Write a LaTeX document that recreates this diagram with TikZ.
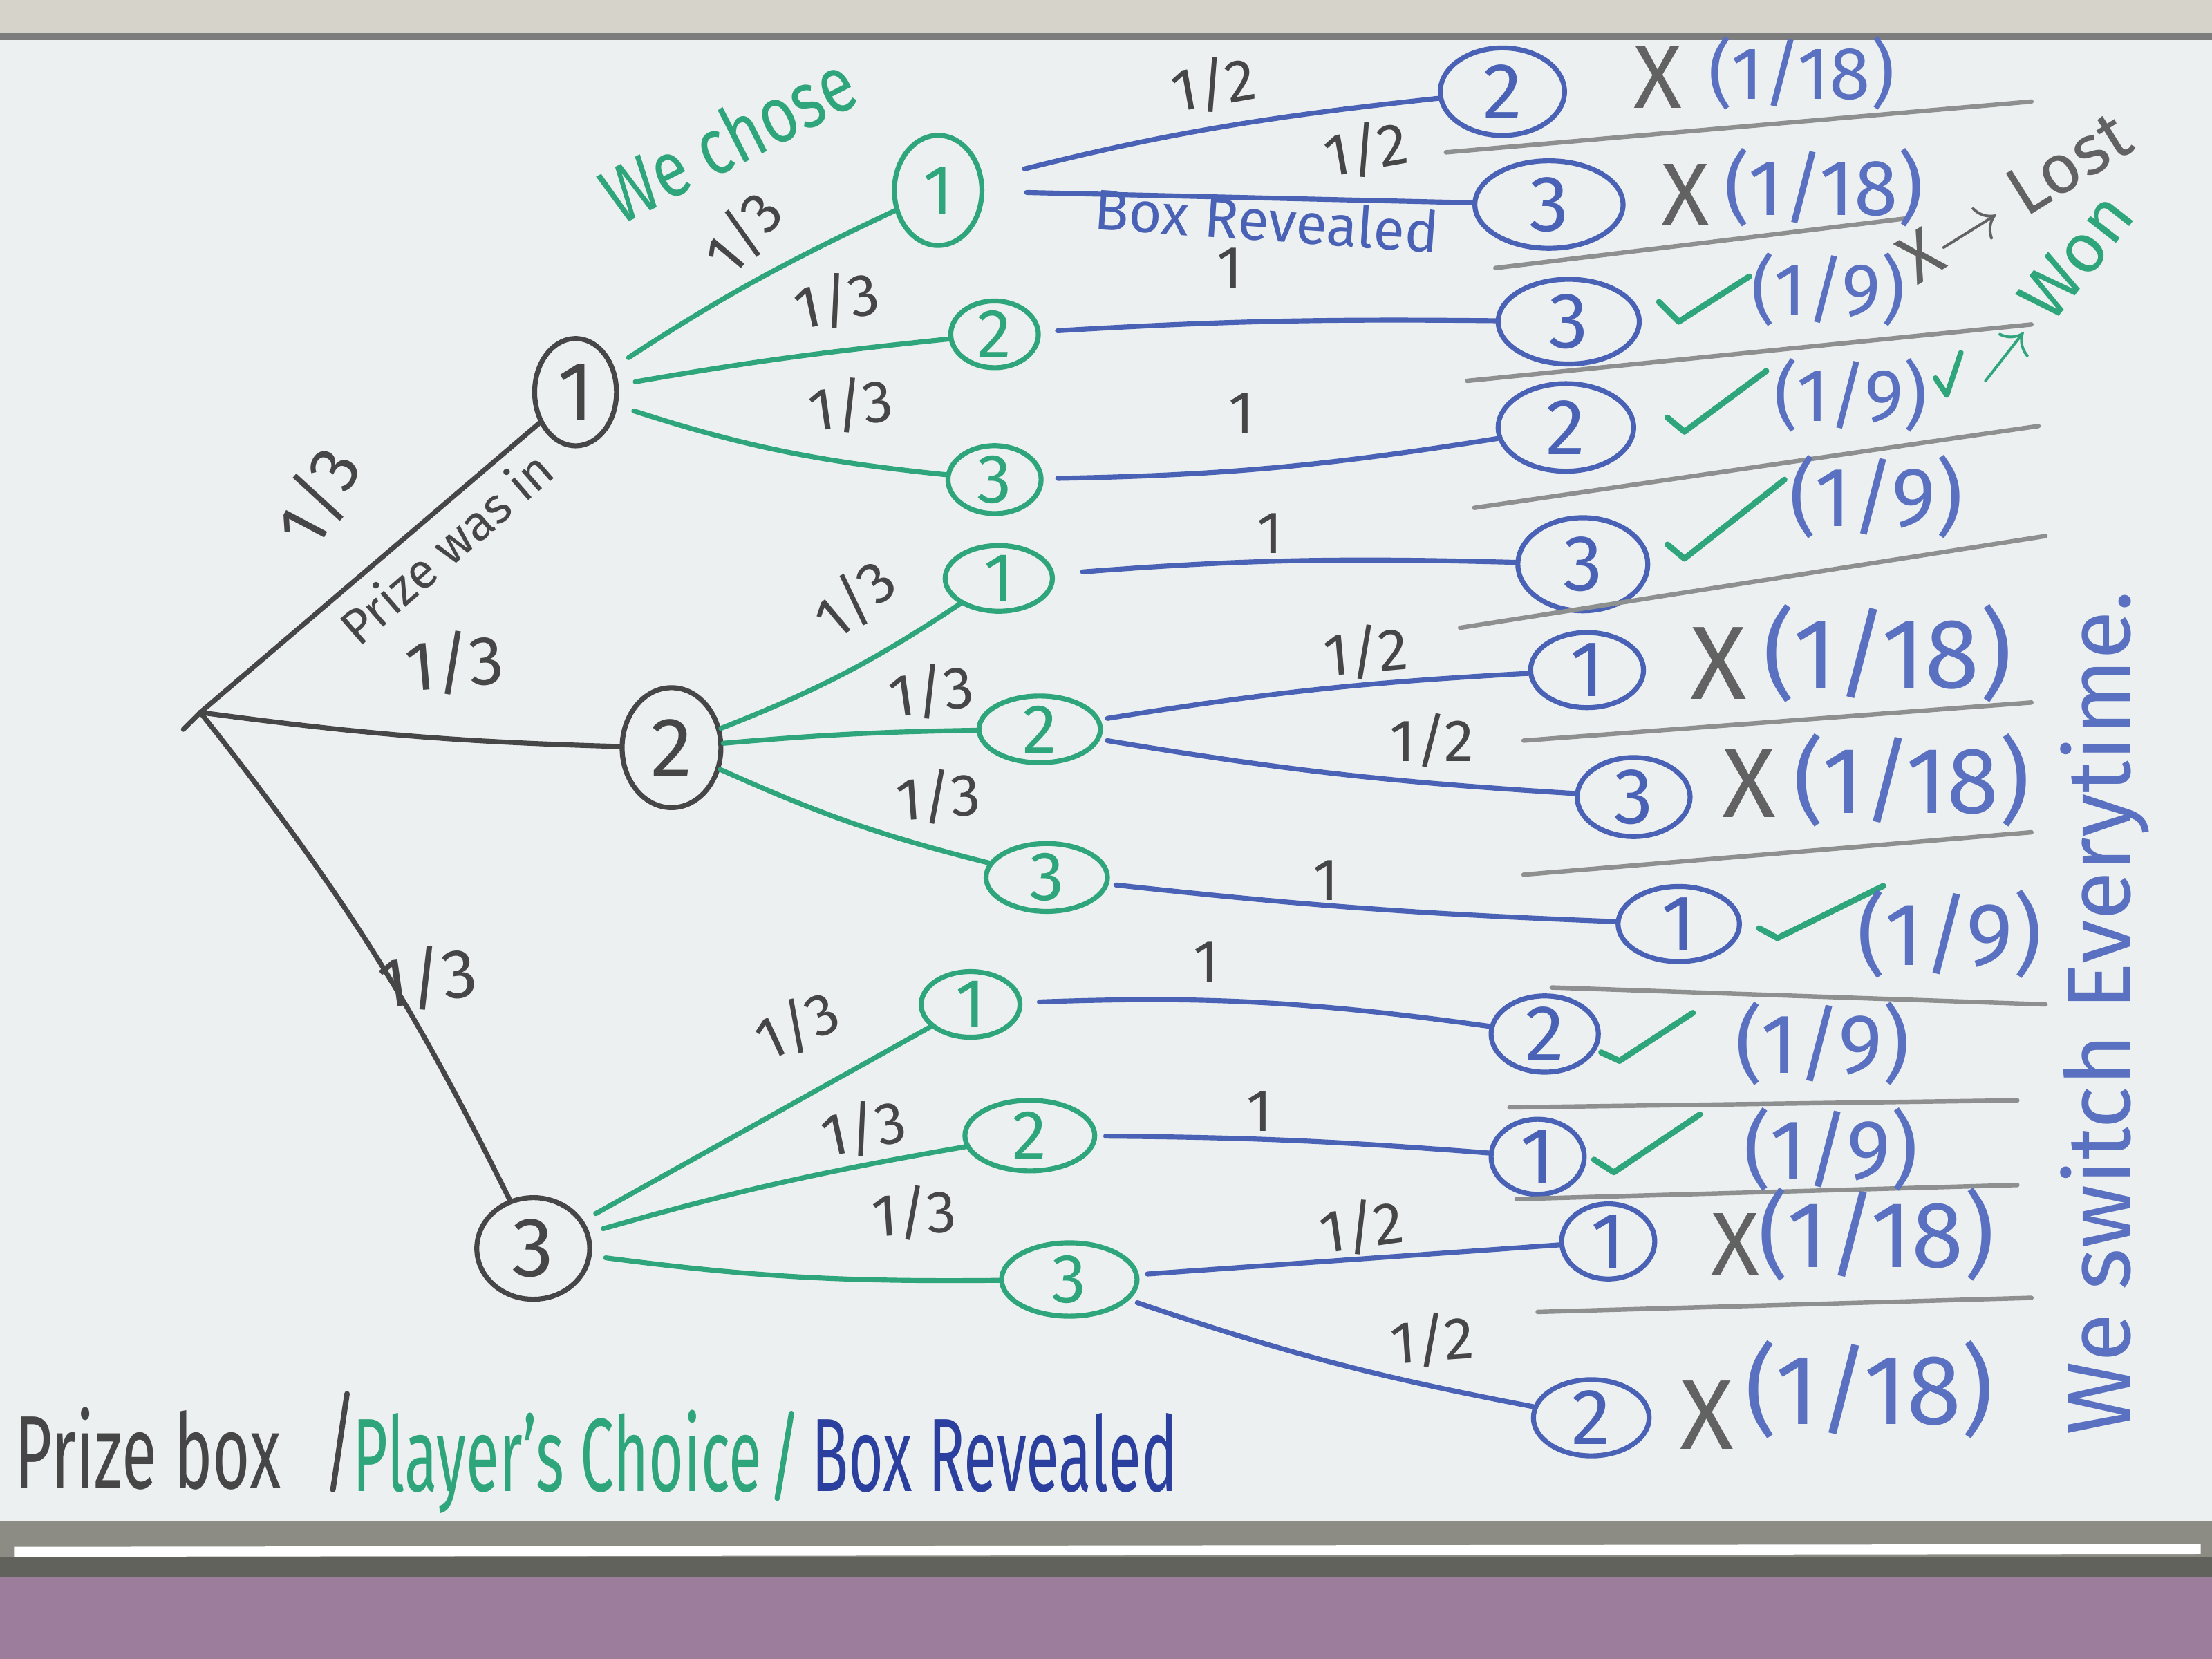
\documentclass[tikz,border=0pt]{standalone}
\usepackage{fontspec}
\usepackage{graphicx}
\setmainfont{Fira Sans}
\usetikzlibrary{shapes.geometric}
\definecolor{board}{HTML}{EDF0F1}
\definecolor{ink}{HTML}{464646}
\definecolor{grn}{HTML}{2EA57A}
\definecolor{blu}{HTML}{4A62B5}
\definecolor{lblu}{HTML}{5A70C0}
\definecolor{dblu}{HTML}{2B3F9E}
\definecolor{sep}{HTML}{8E9090}
\definecolor{tray}{HTML}{8C8C84}
\definecolor{wall}{HTML}{9C7E9C}
\definecolor{frame}{HTML}{D6D3CA}
\tikzset{
 mk/.style={line width=1.0pt, line cap=round, line join=round},
 lvA/.style={ellipse, draw=ink, mk, text=ink, inner sep=0pt, font=\fontsize{17}{17}\selectfont},
 lvB/.style={ellipse, draw=grn, mk, text=grn, inner sep=0pt, font=\fontsize{14}{14}\selectfont},
 lvC/.style={ellipse, draw=blu, mk, text=blu, inner sep=0pt, font=\fontsize{16}{16}\selectfont},
 eA/.style={draw=ink, mk},
 eB/.style={draw=grn, mk},
 eC/.style={draw=blu, mk},
 prob/.style={text=ink, font=\fontsize{12}{12}\selectfont, inner sep=1pt},
 probA/.style={text=ink, font=\fontsize{14}{14}\selectfont, inner sep=1pt},
 sepline/.style={draw=sep, line width=0.9pt, line cap=round},
 tick/.style={draw=grn, line width=1.2pt, line cap=round, line join=round},
 res/.style={text=lblu, inner sep=0pt},
 cross/.style={text=ink!85, inner sep=0pt},
}
\begin{document}
\begin{tikzpicture}[x=0.01cm, y=-0.01cm]
\useasboundingbox (0,0) rectangle (1568,1176);
% board and frame
\fill[board] (0,0) rectangle (1568,1176);
\fill[frame] (0,0) rectangle (1568,24);
\draw[ink!70, line width=1.5pt] (0,26) -- (1568,26);
\fill[tray] (0,1078) rectangle (1568,1118);
\fill[tray!70!black] (0,1104) rectangle (1568,1118);
\draw[white, line width=2pt] (10,1100) -- (1560,1098);
\fill[wall] (0,1118) rectangle (1568,1176);

% root and level A
\coordinate (R) at (142,505);
\node[lvA, minimum width=0.58cm, minimum height=0.76cm] (A1) at (408,278) {1};
\node[lvA, minimum width=0.70cm, minimum height=0.85cm] (A2) at (476,530) {2};
\node[lvA, minimum width=0.80cm, minimum height=0.72cm] (A3) at (378,885) {3};
\draw[eA] (R) -- (A1);
\draw[eA] (R) to[bend right=3] (A2);
\draw[eA] (R) to[bend left=6] (A3);
\draw[eA] (R) -- ++(-12,12);

% level B
\node[lvB, minimum width=0.62cm, minimum height=0.78cm] (B11) at (665,135) {1};
\node[lvB, minimum width=0.62cm, minimum height=0.46cm] (B12) at (705,237) {2};
\node[lvB, minimum width=0.66cm, minimum height=0.46cm] (B13) at (705,340) {3};
\node[lvB, minimum width=0.76cm, minimum height=0.46cm] (B21) at (708,410) {1};
\node[lvB, minimum width=0.86cm, minimum height=0.42cm] (B22) at (737,517) {2};
\node[lvB, minimum width=0.86cm, minimum height=0.46cm] (B23) at (742,622) {3};
\node[lvB, minimum width=0.70cm, minimum height=0.46cm] (B31) at (688,712) {1};
\node[lvB, minimum width=0.92cm, minimum height=0.50cm] (B32) at (730,805) {2};
\node[lvB, minimum width=0.96cm, minimum height=0.52cm] (B33) at (758,907) {3};

\draw[eB, shorten <=0.12cm] (A1) to[bend left=4] (B11);
\draw[eB, shorten <=0.12cm] (A1) to[bend left=2] (B12);
\draw[eB, shorten <=0.12cm] (A1) to[bend right=6] (B13);
\draw[eB] (A2) to[bend right=6] (B21);
\draw[eB] (A2) to[bend left=2] (B22);
\draw[eB] (A2) to[bend right=5] (B23);
\draw[eB, shorten <=0.1cm] (A3) -- (B31);
\draw[eB, shorten <=0.1cm] (A3) to[bend left=3] (B32);
\draw[eB, shorten <=0.1cm] (A3) to[bend right=4] (B33);

% level C
\node[lvC, minimum width=0.88cm, minimum height=0.62cm] (C1) at (1065,65) {2};
\node[lvC, minimum width=1.05cm, minimum height=0.62cm] (C2) at (1098,145) {3};
\node[lvC, minimum width=1.00cm, minimum height=0.60cm] (C3) at (1112,228) {3};
\node[lvC, minimum width=0.96cm, minimum height=0.62cm] (C4) at (1110,303) {2};
\node[lvC, minimum width=0.92cm, minimum height=0.66cm] (C5) at (1122,400) {3};
\node[lvC, minimum width=0.80cm, minimum height=0.50cm] (C6) at (1125,475) {1};
\node[lvC, minimum width=0.80cm, minimum height=0.56cm] (C7) at (1158,565) {3};
\node[lvC, minimum width=0.86cm, minimum height=0.50cm] (C8) at (1190,655) {1};
\node[lvC, minimum width=0.76cm, minimum height=0.50cm] (C9) at (1095,733) {2};
\node[lvC, minimum width=0.66cm, minimum height=0.46cm] (C10) at (1090,820) {1};
\node[lvC, minimum width=0.66cm, minimum height=0.42cm] (C11) at (1140,880) {1};
\node[lvC, minimum width=0.82cm, minimum height=0.52cm] (C12) at (1128,1005) {2};

\draw[eC, shorten <=0.3cm] (B11) to[bend left=4] (C1);
\draw[eC, shorten <=0.3cm] (B11) -- (C2);
\draw[eC, shorten <=0.12cm] (B12) to[bend left=2] (C3);
\draw[eC, shorten <=0.1cm] (B13) to[bend right=4] (C4);
\draw[eC, shorten <=0.2cm] (B21) to[bend left=3] (C5);
\draw[eC, shorten <=0.05cm] (B22) to[bend left=3] (C6);
\draw[eC, shorten <=0.05cm] (B22) to[bend right=3] (C7);
\draw[eC, shorten <=0.05cm] (B23) to[bend right=2] (C8);
\draw[eC, shorten <=0.12cm] (B31) to[bend left=5] (C9);
\draw[eC, shorten <=0.06cm] (B32) to[bend left=2] (C10);
\draw[eC, shorten <=0.06cm] (B33) -- (C11);
\draw[eC, shorten <=0.06cm] (B33) to[bend right=4] (C12);

% level A labels
\node[probA, rotate=62] (lA1) at (226,352) {1/3};
\node[text=ink, font=\fontsize{10}{10}\selectfont, rotate=41] (lPw) at (316,388) {Prize was in};
\node[probA, rotate=5] (lA2) at (322,470) {1/3};
\node[probA, rotate=8] (lA3) at (303,693) {1/3};
\node[text=grn, font=\fontsize{16}{16}\selectfont, rotate=27] (lWc) at (516,98) {\scalebox{0.8}[1]{We chose}};

% level B labels
\node[prob, rotate=50] (lB11) at (527,165) {1/3};
\node[prob, rotate=12] (lB12) at (593,213) {1/3};
\node[prob, rotate=8] (lB13) at (603,287) {1/3};
\node[prob, rotate=40] (lB21) at (606,425) {1/3};
\node[prob, rotate=8] (lB22) at (660,490) {1/3};
\node[prob, rotate=4] (lB23) at (665,565) {1/3};
\node[prob, rotate=25] (lB31) at (565,727) {1/3};
\node[prob, rotate=12] (lB32) at (612,800) {1/3};
\node[prob, rotate=4] (lB33) at (648,860) {1/3};

% level C labels
\node[prob, rotate=10] (lC1) at (860,60) {1/2};
\node[prob, rotate=10] (lC2) at (968,106) {1/2};
\node[text=blu, font=\fontsize{11.5}{11.5}\selectfont, rotate=-4] (lBR) at (898,156) {Box Revealed};
\node[prob] (lC3) at (872,190) {1};
\node[prob] (lC4) at (880,293) {1};
\node[prob] (lC5) at (900,378) {1};
\node[prob, rotate=5] (lC6) at (968,462) {1/2};
\node[prob] (lC7) at (1015,525) {1/2};
\node[prob] (lC8) at (940,624) {1};
\node[prob] (lC9) at (855,682) {1};
\node[prob] (lC10) at (893,788) {1};
\node[prob, rotate=8] (lC11) at (965,870) {1/2};
\node[prob, rotate=4] (lC12) at (1015,950) {1/2};

% separator lines
\draw[sepline] (1025,108) -- (1440,72);
\draw[sepline] (1060,190) -- (1350,155);
\draw[sepline] (1040,270) -- (1440,230);
\draw[sepline] (1045,360) -- (1445,302);
\draw[sepline] (1035,445) -- (1450,380);
\draw[sepline] (1080,525) -- (1440,498);
\draw[sepline] (1080,620) -- (1440,590);
\draw[sepline] (1100,700) -- (1450,712);
\draw[sepline] (1070,785) -- (1430,780);
\draw[sepline] (1075,850) -- (1430,840);
\draw[sepline] (1090,930) -- (1440,920);

% outcomes
\node[cross, font=\fontsize{18}{18}\selectfont] (x1) at (1175,55) {X};
\node[res, font=\fontsize{15}{15}\selectfont] (r1) at (1277,52) {(1/18)};
\node[cross, font=\fontsize{18}{18}\selectfont] (x2) at (1195,138) {X};
\node[res, font=\fontsize{16}{16}\selectfont] (r2) at (1293,133) {(1/18)};
\draw[tick] (1176,214) -- (1190,228) -- (1240,196);
\node[res, font=\fontsize{15}{15}\selectfont] (r3) at (1296,205) {(1/9)};
\draw[tick] (1182,296) -- (1194,306) -- (1252,263);
\node[res, font=\fontsize{15}{15}\selectfont] (r4) at (1312,280) {(1/9)};
\draw[tick] (1182,386) -- (1194,396) -- (1265,340);
\node[res, font=\fontsize{17}{17}\selectfont] (r5) at (1330,352) {(1/9)};
\node[cross, font=\fontsize{21}{21}\selectfont] (x6) at (1218,470) {X};
\node[res, font=\fontsize{20}{20}\selectfont] (r6) at (1338,463) {(1/18)};
\node[cross, font=\fontsize{20}{20}\selectfont] (x7) at (1240,555) {X};
\node[res, font=\fontsize{19}{19}\selectfont] (r7) at (1355,553) {(1/18)};
\draw[tick] (1247,658) -- (1260,665) -- (1335,628);
\node[res, font=\fontsize{18}{18}\selectfont] (r8) at (1382,662) {(1/9)};
\draw[tick] (1135,746) -- (1148,752) -- (1200,718);
\node[res, font=\fontsize{17}{17}\selectfont] (r9) at (1292,740) {(1/9)};
\draw[tick] (1130,822) -- (1144,831) -- (1205,790);
\node[res, font=\fontsize{17}{17}\selectfont] (r10) at (1298,815) {(1/9)};
\node[cross, font=\fontsize{18}{18}\selectfont] (x11) at (1230,882) {X};
\node[res, font=\fontsize{19}{19}\selectfont] (r11) at (1330,875) {(1/18)};
\node[cross, font=\fontsize{20}{20}\selectfont] (x12) at (1210,1003) {X};
\node[res, font=\fontsize{20}{20}\selectfont] (r12) at (1325,985) {(1/18)};

% lost / won notes
\node[text=ink!85, font=\fontsize{14}{14}\selectfont, rotate=32] (nLost) at (1428,140) {X$\rightarrow$ Lost};
\draw[tick, line width=1.1pt] (1372,268) -- (1380,280) -- (1390,250);
\node[text=grn, font=\fontsize{14}{14}\selectfont, rotate=52] (nWon) at (1452,207) {$\rightarrow$ Won};

% vertical note
\node[text=lblu, font=\fontsize{18}{18}\selectfont, rotate=90] (nSw) at (1492,718) {We switch Everytime.};

% legend
\node[text=ink, font=\fontsize{21}{21}\selectfont] (gP) at (105,1027) {\scalebox{0.62}[1]{Prize box}};
\draw[draw=ink, line width=1.1pt, line cap=round] (246,988) -- (236,1056);
\node[text=grn, font=\fontsize{21}{21}\selectfont] (gC) at (395,1036) {\scalebox{0.58}[1]{Player's Choice}};
\draw[draw=grn, line width=1.1pt, line cap=round] (561,1002) -- (551,1062);
\node[text=dblu, font=\fontsize{21}{21}\selectfont] (gB) at (705,1030) {\scalebox{0.58}[1]{Box Revealed}};
\end{tikzpicture}
\end{document}
